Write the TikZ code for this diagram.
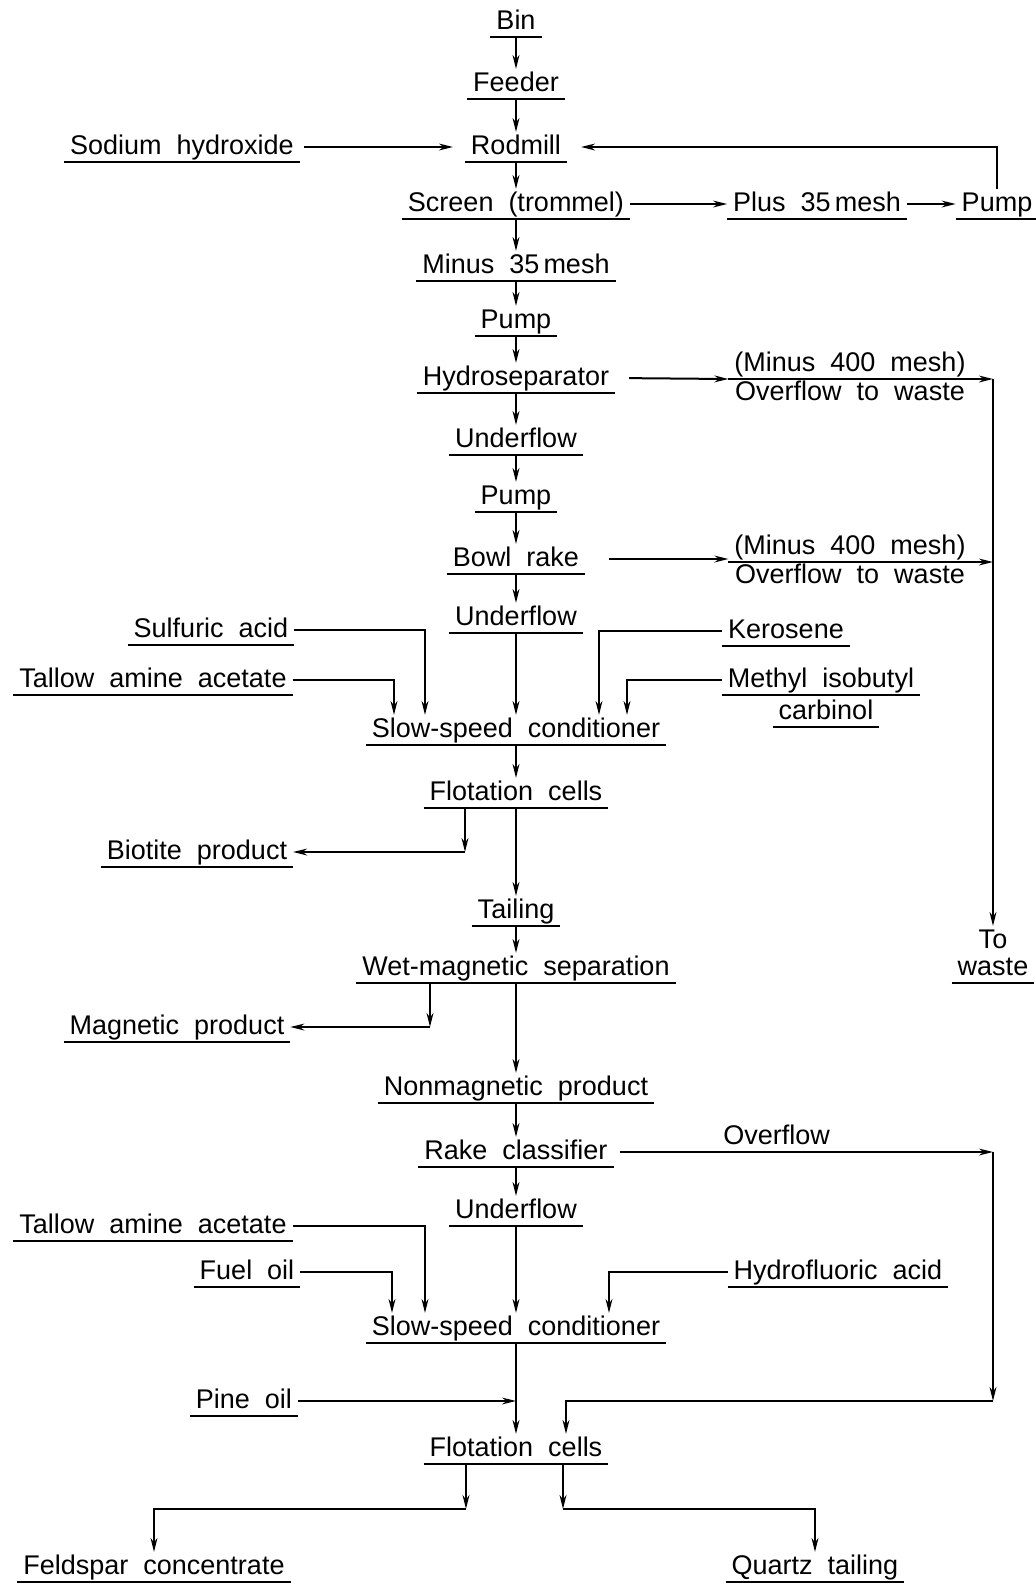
\documentclass[tikz,border=0pt]{standalone}
\usepackage{fontspec}
\setmainfont{Liberation Sans}[WordSpace=2]
\usetikzlibrary{arrows.meta}

\begin{document}
\begin{tikzpicture}[x=0.5pt,y=-0.5pt,>={Stealth[length=7pt,width=3.4pt]},line width=1pt,node distance=30pt,
		box/.style={font=\fontsize{13.5}{16}\selectfont,text height=10pt,text depth=3pt,inner xsep=2.5pt,inner ysep=0.5pt,
			append after command={(\tikzlastnode.south west) edge[draw,-] (\tikzlastnode.south east)}},
		plain/.style={font=\fontsize{13.5}{16}\selectfont,text height=10pt,text depth=3pt,inner xsep=2.5pt,inner ysep=0.5pt}]
		\useasboundingbox (0,0) rectangle (1035,1587);
		
		% grinding
		\node[box] (bin) at (516,22) {Bin};
		\node[box] (feeder) [below of=bin, node distance=31pt] {Feeder};
		\node[box] (rodmill) [below of=feeder, node distance=31.5pt] {Rodmill};
		\node[box] (soda) [left of=rodmill, node distance=167pt] {Sodium hydroxide};
		\node[box] (screen) [below of=rodmill, node distance=28.5pt] {Screen (trommel)};
		\node[box] (plus35) [right of=screen, node distance=150.5pt] {Plus 35\hspace{0.15em}mesh};
		\node[box] (pumpr) [right of=plus35, node distance=90pt] {Pump};
		\path[->]
		(bin) edge (feeder)
		(feeder) edge (rodmill)
		(rodmill) edge (screen)
		(screen) edge (plus35)
		(plus35) edge (pumpr);
		\draw[->, shorten <=2pt, shorten >=6pt] (soda) -- (rodmill);
		\draw[->, shorten >=7pt] (pumpr) |- (rodmill);
		
		% desliming
		\node[box] (minus35) [below of=screen, node distance=31pt] {Minus 35\hspace{0.15em}mesh};
		\node[box] (pump1) [below of=minus35, node distance=27.5pt] {Pump};
		\node[box] (hydrosep) [below of=pump1, node distance=28.5pt] {Hydroseparator};
		\node[box] (minus400a) [right of=hydrosep, node distance=167pt, yshift=7pt] {(Minus 400 mesh)};
		\node[plain] (wastea) [below of=minus400a, node distance=14.5pt] {Overflow to waste};
		\node[box] (under1) [below of=hydrosep, node distance=31pt] {Underflow};
		\node[box] (pump2) [below of=under1, node distance=28.5pt] {Pump};
		\node[box] (bowl) [below of=pump2, node distance=31pt] {Bowl rake};
		\node[box] (minus400b) [right of=bowl, node distance=167pt, yshift=6pt] {(Minus 400 mesh)};
		\node[plain] (wasteb) [below of=minus400b, node distance=14.5pt] {Overflow to waste};
		\node[box] (under2) [below of=bowl, node distance=29.5pt] {Underflow};
		\path[->]
		(screen) edge (minus35)
		(minus35) edge (pump1)
		(pump1) edge (hydrosep)
		(hydrosep) edge (under1)
		(under1) edge (pump2)
		(pump2) edge (bowl)
		(bowl) edge (under2);
		\draw[->, shorten <=7pt] (hydrosep.east) -- (minus400a.south west);
		\draw[->, shorten <=12pt] (bowl.east) -- (bowl.east -| minus400b.south west);
		
		% waste
		\node[plain] (wto) [right of=hydrosep, node distance=238.5pt, yshift=-281.5pt] {To};
		\node[box] (waste) [below of=wto, node distance=13.5pt] {waste};
		\draw[->] (minus400a.south east) -- (minus400a.south east -| wto);
		\draw[->] (minus400b.south east) -- (minus400b.south east -| wto);
		\draw[->] (minus400a.south east -| wto) -- (wto);
		
		% biotite flotation
		\node[box] (cond1) [below of=under2, node distance=56pt] {Slow-speed conditioner};
		\node[box] (sulf) [left of=under2, node distance=152.5pt, yshift=-6pt] {Sulfuric acid};
		\node[box] (tallow1) [left of=cond1, node distance=181.5pt, yshift=25pt] {Tallow amine acetate};
		\node[box] (kero) [right of=under2, node distance=135pt, yshift=-6.5pt] {Kerosene};
		\node[box] (mibc) [right of=cond1, node distance=152.5pt, yshift=25pt] {Methyl isobutyl};
		\node[box] (carb) [below of=mibc, node distance=16pt, xshift=2.5pt] {carbinol};
		\node[box] (flot1) [below of=cond1, node distance=31.5pt] {Flotation cells};
		\node[box] (biot) [left of=flot1, node distance=159.5pt, yshift=-29.5pt] {Biotite product};
		\node[box] (tail) [below of=flot1, node distance=59pt] {Tailing};
		\path[->]
		(under2) edge (cond1)
		(cond1) edge (flot1)
		(flot1) edge (tail);
		\draw[->] (sulf) -| ([xshift=-45.5pt]cond1.north);
		\draw[->] (tallow1) -| ([xshift=-61pt]cond1.north);
		\draw[->] (kero) -| ([xshift=41.5pt]cond1.north);
		\draw[->] (mibc) -| ([xshift=55.5pt]cond1.north);
		\coordinate (bt) at ([xshift=-25.5pt]flot1.south);
		\draw[->] (bt) -- (bt |- biot);
		\draw[->] (bt |- biot) -- (biot);
		
		% magnetic separation
		\node[box] (wetmag) [below of=tail, node distance=28.5pt] {Wet-magnetic separation};
		\node[box] (mag) [left of=wetmag, node distance=169.5pt, yshift=-29.5pt] {Magnetic product};
		\node[box] (nonmag) [below of=wetmag, node distance=60pt] {Nonmagnetic product};
		\node[box] (rake) [below of=nonmag, node distance=32pt] {Rake classifier};
		\node[box] (under3) [below of=rake, node distance=29.5pt] {Underflow};
		\path[->]
		(tail) edge (wetmag)
		(wetmag) edge (nonmag)
		(nonmag) edge (rake)
		(rake) edge (under3);
		\coordinate (mg) at ([xshift=-43pt]wetmag.south);
		\draw[->] (mg) -- (mg |- mag);
		\draw[->] (mg |- mag) -- (mag);
		
		% feldspar flotation
		\node[box] (cond2) [below of=under3, node distance=58.5pt] {Slow-speed conditioner};
		\node[box] (tallow2) [left of=under3, node distance=181.5pt, yshift=-7.5pt] {Tallow amine acetate};
		\node[box] (fuel) [left of=cond2, node distance=134.5pt, yshift=28pt] {Fuel oil};
		\node[box] (hf) [right of=cond2, node distance=161pt, yshift=28pt] {Hydrofluoric acid};
		\node[box] (flot2) [below of=cond2, node distance=60.5pt] {Flotation cells};
		\node[box] (pine) [left of=flot2, node distance=136pt, yshift=24pt] {Pine oil};
		\node[box] (feld) [below of=flot2, node distance=59pt, xshift=-181pt] {Feldspar concentrate};
		\node[box] (quartz) [below of=flot2, node distance=59pt, xshift=149.5pt] {Quartz tailing};
		\path[->]
		(under3) edge (cond2)
		(cond2) edge (flot2);
		\draw[->] (tallow2) -| ([xshift=-45.5pt]cond2.north);
		\draw[->] (fuel) -| ([xshift=-62pt]cond2.north);
		\draw[->] (hf) -| ([xshift=46.5pt]cond2.north);
		\draw[->] (pine) -- (pine -| flot2);
		\draw[->, shorten <=3pt] (rake) -- (rake -| wto) node[plain, above, pos=.43] {Overflow};
		\draw[->] (rake -| wto) -- (pine -| wto);
		\draw[->] (pine -| wto) -| ([xshift=25pt]flot2.north);
		\coordinate (fa) at ([xshift=-25pt]flot2.south);
		\coordinate (fb) at ([xshift=-25pt, yshift=-22.5pt]flot2.south);
		\coordinate (qa) at ([xshift=23.5pt]flot2.south);
		\coordinate (qb) at ([xshift=23.5pt, yshift=-22.5pt]flot2.south);
		\draw[->] (fa) -- (fb);
		\draw[->] (fb) -| (feld);
		\draw[->] (qa) -- (qb);
		\draw[->] (qb) -| (quartz);
\end{tikzpicture}
\end{document}
